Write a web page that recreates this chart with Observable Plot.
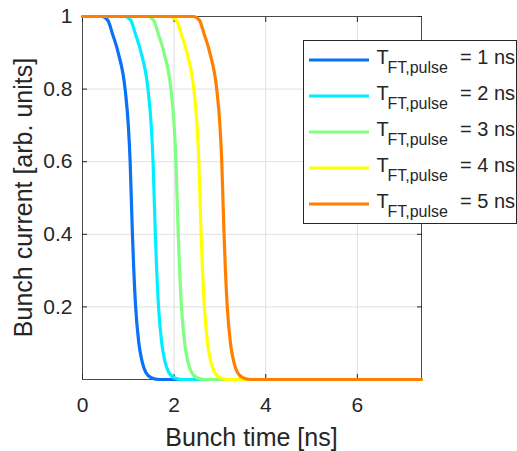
<!DOCTYPE html>
<html>
<head>
<meta charset="utf-8">
<script src="https://cdn.jsdelivr.net/npm/d3@7"></script>
<script src="https://cdn.jsdelivr.net/npm/@observablehq/plot@0.6"></script>
<style>
  html, body { margin: 0; padding: 0; background: white; }
  #chart { width: 517px; height: 451px; }
</style>
</head>
<body>
<div id="chart"></div>
<script>
// ---- data ----
const pulses = [1, 2, 3, 4, 5];                     // T_FT,pulse [ns]
const colors = ["#0a72f5", "#00eeff", "#80ff80", "#ffff00", "#ff8000"];
const levels = [1, 1, 0.99, 0.95, 0.9, 0.8, 0.7, 0.6, 0.5, 0.4, 0.3, 0.2, 0.1, 0.05, 0.02, 0.005, 0, 0]; // bunch current
const t1 = [0, 0.42, 0.55, 0.66, 0.78, 0.93, 1.00, 1.04, 1.065, 1.09, 1.12, 1.16, 1.23, 1.30, 1.38, 1.50, 1.68, 7.4];
const t2 = [0, 0.92, 1.05, 1.16, 1.28, 1.43, 1.50, 1.54, 1.565, 1.59, 1.62, 1.66, 1.73, 1.80, 1.88, 2.00, 2.18, 7.4];
const t3 = [0, 1.42, 1.55, 1.66, 1.78, 1.93, 2.00, 2.04, 2.065, 2.09, 2.12, 2.16, 2.23, 2.30, 2.38, 2.50, 2.68, 7.4];
const t4 = [0, 1.92, 2.05, 2.16, 2.28, 2.43, 2.50, 2.54, 2.565, 2.59, 2.62, 2.66, 2.73, 2.80, 2.88, 3.00, 3.18, 7.4];
const t5 = [0, 2.42, 2.55, 2.66, 2.78, 2.93, 3.00, 3.04, 3.065, 3.09, 3.12, 3.16, 3.23, 3.30, 3.38, 3.50, 3.68, 7.4];
const times = [t1, t2, t3, t4, t5];
const xTicks = [0, 2, 4, 6];
const yTicks = [0.2, 0.4, 0.6, 0.8, 1];
const xLabel = "Bunch time [ns]";
const yLabel = "Bunch current [arb. units]";

const rows = [];
times.forEach((ts, k) => ts.forEach((t, i) => rows.push({t, I: levels[i], s: k})));

const W = 517, H = 451;
const mL = 82, mR = 96, mT = 16, mB = 72;
const ink = "#262626";
const font = "'Liberation Sans', Arial, Helvetica, sans-serif";

const chart = Plot.plot({
  width: W, height: H,
  marginLeft: mL, marginRight: mR, marginTop: mT, marginBottom: mB,
  x: {domain: [0, 7.4]},
  y: {domain: [0, 1]},
  style: {fontFamily: font, color: ink, background: "white", overflow: "visible"},
  marks: [
    Plot.gridX(xTicks.slice(1), {stroke: "#dfdfdf", strokeOpacity: 1}),
    Plot.gridY(yTicks, {stroke: "#dfdfdf", strokeOpacity: 1}),
    Plot.frame({stroke: "#4a4a4a", strokeWidth: 1}),
    Plot.axisX(xTicks, {tickSize: 0, tickPadding: 18, fontSize: 21, label: null, fill: ink}),
    Plot.axisX(xTicks, {tickSize: -5, text: null, label: null, stroke: ink}),
    Plot.axisX(xTicks, {anchor: "top", tickSize: -5, text: null, label: null, stroke: ink}),
    Plot.axisY(yTicks, {tickSize: 0, tickPadding: 10, fontSize: 21, label: null, fill: ink, tickFormat: d3.format("")}),
    Plot.axisY(yTicks, {tickSize: -5, text: null, label: null, stroke: ink}),
    Plot.axisY(yTicks, {anchor: "right", tickSize: -5, text: null, label: null, stroke: ink}),
    ...pulses.map((p, k) =>
      Plot.line(rows.filter(r => r.s === k), {
        x: "t", y: "I", stroke: colors[k], strokeWidth: 3.2, curve: "monotone-x"
      })
    )
  ]
});

document.getElementById("chart").appendChild(chart);

const svg = d3.select(chart);

// axis labels
svg.append("text")
  .attr("x", 251.5).attr("y", 445.5)
  .attr("text-anchor", "middle")
  .attr("font-family", font).attr("font-size", 25).attr("fill", ink)
  .text(xLabel);
svg.append("text")
  .attr("transform", `translate(32, ${(mT + H - mB) / 2}) rotate(-90)`)
  .attr("text-anchor", "middle")
  .attr("font-family", font).attr("font-size", 25).attr("fill", ink)
  .text(yLabel);

// legend
const lg = svg.append("g").attr("text-anchor", "start");
lg.append("rect")
  .attr("x", 303.5).attr("y", 40.5).attr("width", 213).attr("height", 183)
  .attr("fill", "white").attr("stroke", ink).attr("stroke-width", 1);
pulses.forEach((p, k) => {
  const y = 60 + k * 36;
  lg.append("line")
    .attr("x1", 309).attr("x2", 369).attr("y1", y).attr("y2", y)
    .attr("stroke", colors[k]).attr("stroke-width", 3.2);
  lg.append("text").attr("x", 376.5).attr("y", y + 3.5).attr("text-anchor", "start")
    .attr("font-family", font).attr("font-size", 20).attr("fill", ink).text("T");
  lg.append("text").attr("x", 387.5).attr("y", y + 13).attr("text-anchor", "start")
    .attr("font-family", font).attr("font-size", 16).attr("fill", ink).text("FT,pulse");
  lg.append("text").attr("x", 460).attr("y", y + 3.5).attr("text-anchor", "start")
    .attr("font-family", font).attr("font-size", 20).attr("fill", ink).text(`= ${p} ns`);
});
</script>
</body>
</html>
